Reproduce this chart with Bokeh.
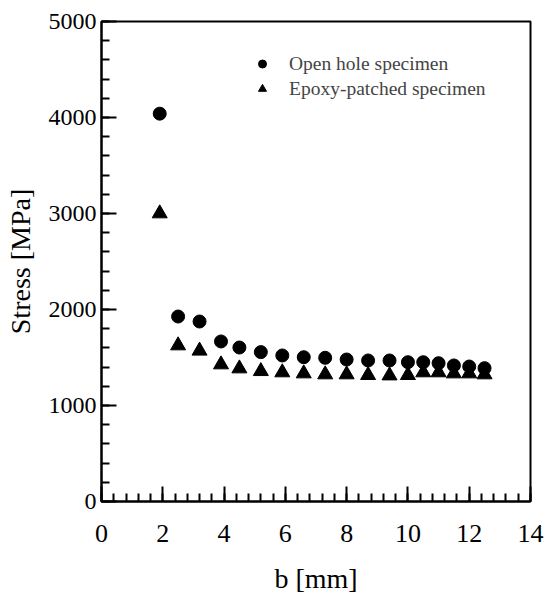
from bokeh.plotting import figure
from bokeh.models import FixedTicker, Legend, LegendItem, ColumnDataSource, Range1d
from bokeh.embed import file_html
from bokeh.resources import INLINE
import numpy as np

b_mm = [1.9, 2.5, 3.2, 3.9, 4.5, 5.2, 5.9, 6.6, 7.3, 8.0, 8.7, 9.4, 10.0, 10.5, 11.0, 11.5, 12.0, 12.5]
open_hole = [4040, 1927, 1875, 1667, 1604, 1556, 1521, 1503, 1497, 1479, 1469, 1469, 1451, 1451, 1441, 1417, 1406, 1389]
epoxy_patched = [3000, 1625, 1570, 1427, 1385, 1357, 1344, 1333, 1323, 1323, 1316, 1312, 1316, 1344, 1344, 1333, 1333, 1323]
x_ticks = [0, 2, 4, 6, 8, 10, 12, 14]
y_ticks = [0, 1000, 2000, 3000, 4000, 5000]
series_labels = ["Open hole specimen", "Epoxy-patched specimen"]

FONT = "Liberation Serif"

p = figure(width=547, height=596, output_backend="svg", toolbar_location=None,
           x_range=Range1d(0, 14), y_range=Range1d(0, 5000),
           min_border_left=101, min_border_right=17, min_border_top=21, min_border_bottom=95)

p.grid.visible = False
p.background_fill_color = "white"
p.border_fill_color = "white"
p.outline_line_color = "black"
p.outline_line_width = 2

src = ColumnDataSource(dict(b=b_mm, o=open_hole, e=epoxy_patched))
r1 = p.scatter("b", "o", source=src, marker="circle", size=13, color="black")
r2 = p.scatter("b", "e", source=src, marker="triangle", size=15, color="black")

minor_x = [round(v, 1) for v in np.arange(0, 14.01, 0.4)]
minor_y = list(range(0, 5001, 200))
p.xaxis.ticker = FixedTicker(ticks=x_ticks, minor_ticks=minor_x)
p.yaxis.ticker = FixedTicker(ticks=y_ticks, minor_ticks=minor_y)

for ax in (p.xaxis[0], p.yaxis[0]):
    ax.axis_line_width = 2
    ax.axis_line_color = "black"
    ax.major_tick_in = 15
    ax.major_tick_out = 0
    ax.minor_tick_in = 8
    ax.minor_tick_out = 0
    ax.major_tick_line_width = 2
    ax.minor_tick_line_width = 2
    ax.major_tick_line_color = "black"
    ax.minor_tick_line_color = "black"
    ax.major_label_text_font = FONT
    ax.major_label_text_color = "black"
    ax.axis_label_text_font = FONT
    ax.axis_label_text_font_size = "28px"
    ax.axis_label_text_font_style = "normal"
    ax.axis_label_text_color = "black"

p.xaxis.major_label_text_font_size = "26px"
p.yaxis.major_label_text_font_size = "24px"
p.xaxis.axis_label = "b [mm]"
p.yaxis.axis_label = "Stress [MPa]"
p.xaxis.major_label_standoff = 23
p.xaxis.axis_label_standoff = 18
p.yaxis.major_label_standoff = 5
p.yaxis.axis_label_standoff = 10

legend = Legend(items=[LegendItem(label=series_labels[0], renderers=[r1]),
                       LegendItem(label=series_labels[1], renderers=[r2])],
                location=(151, 401), border_line_color=None, background_fill_alpha=0,
                label_text_font=FONT, label_text_font_size="19.5px", glyph_width=20,
                glyph_height=23, spacing=2, label_standoff=17, padding=0, margin=0)
p.add_layout(legend, "center")

open("out.html", "w").write(file_html(p, INLINE))
